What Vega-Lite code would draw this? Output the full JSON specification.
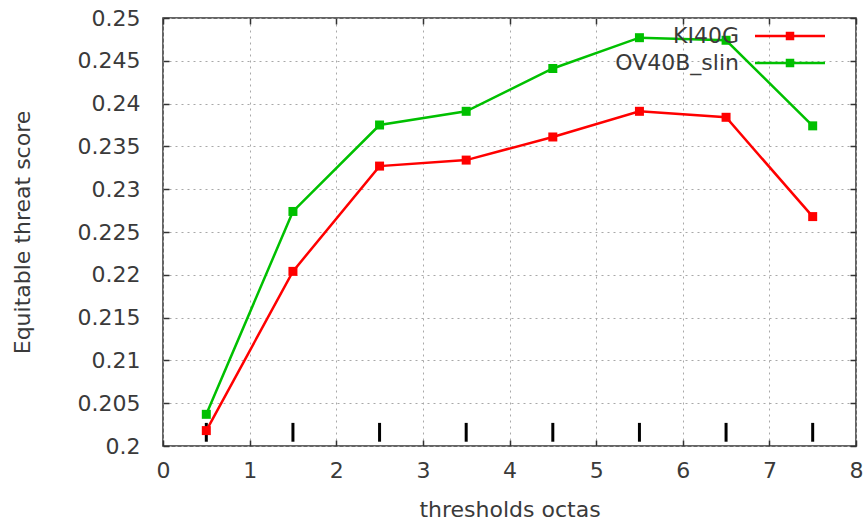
{
  "$schema": "https://vega.github.io/schema/vega-lite/v6.json",
  "width": 693,
  "height": 428,
  "autosize": {"type": "none"},
  "padding": {"left": 163, "top": 18, "right": 9, "bottom": 77},
  "background": "white",
  "datasets": {
    "scores": [
      {"threshold": 0.5, "series": "KI40G", "ets": 0.2018},
      {"threshold": 1.5, "series": "KI40G", "ets": 0.2204},
      {"threshold": 2.5, "series": "KI40G", "ets": 0.2327},
      {"threshold": 3.5, "series": "KI40G", "ets": 0.2334},
      {"threshold": 4.5, "series": "KI40G", "ets": 0.2361},
      {"threshold": 5.5, "series": "KI40G", "ets": 0.2391},
      {"threshold": 6.5, "series": "KI40G", "ets": 0.2384},
      {"threshold": 7.5, "series": "KI40G", "ets": 0.2268},
      {"threshold": 0.5, "series": "OV40B_slin", "ets": 0.2037},
      {"threshold": 1.5, "series": "OV40B_slin", "ets": 0.2274},
      {"threshold": 2.5, "series": "OV40B_slin", "ets": 0.2375},
      {"threshold": 3.5, "series": "OV40B_slin", "ets": 0.2391},
      {"threshold": 4.5, "series": "OV40B_slin", "ets": 0.2441},
      {"threshold": 5.5, "series": "OV40B_slin", "ets": 0.2477},
      {"threshold": 6.5, "series": "OV40B_slin", "ets": 0.2474},
      {"threshold": 7.5, "series": "OV40B_slin", "ets": 0.2374}
    ],
    "bars": [
      {"threshold": 0.5, "lo": 0.2005, "hi": 0.2027},
      {"threshold": 1.5, "lo": 0.2005, "hi": 0.2027},
      {"threshold": 2.5, "lo": 0.2005, "hi": 0.2027},
      {"threshold": 3.5, "lo": 0.2005, "hi": 0.2027},
      {"threshold": 4.5, "lo": 0.2005, "hi": 0.2027},
      {"threshold": 5.5, "lo": 0.2005, "hi": 0.2027},
      {"threshold": 6.5, "lo": 0.2005, "hi": 0.2027},
      {"threshold": 7.5, "lo": 0.2005, "hi": 0.2027}
    ]
  },
  "config": {
    "font": "DejaVu Sans",
    "view": {"stroke": "#333", "strokeWidth": 1.5},
    "axis": {
      "labelFont": "DejaVu Sans",
      "titleFont": "DejaVu Sans",
      "labelFontSize": 22,
      "titleFontSize": 22,
      "titleFontWeight": "normal",
      "labelColor": "#3a3a3a",
      "titleColor": "#3a3a3a",
      "domain": false,
      "tickColor": "#333",
      "tickWidth": 1.5,
      "tickSize": -6,
      "gridColor": "#a8a8a8",
      "gridDash": [2, 4],
      "gridWidth": 1
    },
    "legend": {
      "labelFont": "DejaVu Sans",
      "labelFontSize": 22,
      "labelColor": "#3a3a3a"
    }
  },
  "resolve": {"axis": {"x": "independent", "y": "independent"}},
  "layer": [
    {
      "data": {"name": "bars"},
      "mark": {"type": "rule", "color": "black", "strokeWidth": 3},
      "encoding": {
        "x": {
          "field": "threshold", "type": "quantitative",
          "scale": {"domain": [0, 8], "nice": false, "zero": false},
          "axis": {"orient": "bottom", "values": [0, 1, 2, 3, 4, 5, 6, 7, 8], "title": "thresholds octas", "labelPadding": 20, "titlePadding": 18, "grid": true, "labelFlush": false}
        },
        "y": {
          "field": "lo", "type": "quantitative",
          "scale": {"domain": [0.2, 0.25], "nice": false, "zero": false},
          "axis": {"orient": "left", "values": [0.2, 0.205, 0.21, 0.215, 0.22, 0.225, 0.23, 0.235, 0.24, 0.245, 0.25], "format": "~g", "title": "Equitable threat score", "labelPadding": 29, "titlePadding": 43, "grid": true}
        },
        "y2": {"field": "hi"}
      }
    },
    {
      "data": {"name": "scores"},
      "mark": {"type": "line", "strokeWidth": 2.5},
      "encoding": {
        "x": {"field": "threshold", "type": "quantitative",
          "axis": {"orient": "top", "values": [0, 1, 2, 3, 4, 5, 6, 7, 8], "labels": false, "title": null, "grid": false}},
        "y": {"field": "ets", "type": "quantitative",
          "axis": {"orient": "right", "values": [0.2, 0.205, 0.21, 0.215, 0.22, 0.225, 0.23, 0.235, 0.24, 0.245, 0.25], "labels": false, "title": null, "grid": false}},
        "stroke": {
          "field": "series", "type": "nominal",
          "scale": {"domain": ["KI40G", "OV40B_slin"], "range": ["#ff0000", "#00c000"]},
          "legend": {"orient": "none", "legendX": 616, "legendY": 7, "title": null, "padding": 0, "symbolType": "M-7,0H7M-0.6,-0.6H0.6V0.6H-0.6Z", "symbolSize": 100, "symbolStrokeWidth": 2.5, "labelAlign": "right", "labelOffset": -62, "rowPadding": 5}
        }
      }
    },
    {
      "data": {"name": "scores"},
      "mark": {"type": "point", "shape": "square", "filled": true, "size": 81, "opacity": 1},
      "encoding": {
        "x": {"field": "threshold", "type": "quantitative", "axis": null},
        "y": {"field": "ets", "type": "quantitative", "axis": null},
        "fill": {
          "field": "series", "type": "nominal",
          "scale": {"domain": ["KI40G", "OV40B_slin"], "range": ["#ff0000", "#00c000"]},
          "legend": null
        }
      }
    }
  ]
}
